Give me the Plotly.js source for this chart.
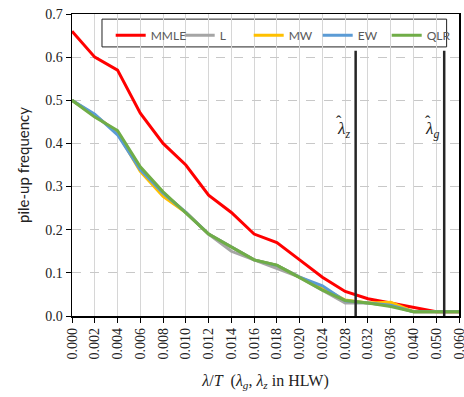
<!DOCTYPE html>
<html>
<head>
<meta charset="utf-8">
<script src="https://cdn.plot.ly/plotly-3.0.1.min.js"></script>
<style>html,body{margin:0;padding:0;background:#fff;}#chart{width:464px;height:397px;}</style>
</head>
<body>
<div id="chart"></div>
<script>
const categories = ["0.000","0.002","0.004","0.006","0.008","0.010","0.012","0.014","0.016","0.018","0.020","0.024","0.028","0.032","0.036","0.040","0.050","0.060"];
const mmle = [0.66,0.60,0.57,0.47,0.40,0.35,0.28,0.24,0.19,0.17,0.13,0.09,0.057,0.04,0.03,0.02,0.01,0.01];
const lSeries = [0.50,0.465,0.425,0.34,0.285,0.24,0.19,0.15,0.13,0.11,0.09,0.06,0.03,0.03,0.025,0.01,0.01,0.01];
const mw = [0.50,0.465,0.425,0.335,0.277,0.24,0.19,0.16,0.13,0.117,0.09,0.065,0.037,0.03,0.032,0.01,0.01,0.01];
const ew = [0.50,0.468,0.42,0.339,0.285,0.24,0.19,0.16,0.13,0.117,0.09,0.07,0.035,0.03,0.025,0.01,0.01,0.01];
const qlr = [0.50,0.461,0.43,0.346,0.288,0.24,0.19,0.16,0.13,0.118,0.088,0.06,0.036,0.03,0.022,0.01,0.01,0.01];
const seriesNames = ["MMLE","L","MW","EW","QLR"];
const seriesColors = ["#FF0000","#A5A5A5","#FFC000","#5B9BD5","#70AD47"];
const markerNames = ["z","g"];
const markerPositions = [12.46, 16.35];

const allSeries = [mmle, lSeries, mw, ew, qlr];
const traces = allSeries.map((vals, i) => ({
  type: "scatter", mode: "lines", x: categories, y: vals, name: seriesNames[i],
  line: {color: seriesColors[i], width: 3}
}));

const serif = "Liberation Serif, serif";
const shapes = markerPositions.map(p => ({
  type: "line", xref: "x", yref: "y", x0: p, x1: p, y0: 0, y1: 0.615,
  line: {color: "#262626", width: 2.5}
}));
// legend frame
shapes.push({
  type: "rect", xref: "paper", yref: "paper", layer: "between",
  x0: 0.0775, x1: 0.968, y0: 0.891, y1: 0.983,
  fillcolor: "#fff", line: {color: "#222", width: 1}
});
const annotations = [];
markerPositions.forEach((p, i) => {
  annotations.push({
    xref: "x", yref: "y", x: p - 0.55, y: 0.43, showarrow: false,
    text: "<i>λ<sub>" + markerNames[i] + "</sub></i>",
    font: {family: serif, size: 17, color: "#222"}
  });
  annotations.push({
    xref: "x", yref: "y", x: p - 0.72, y: 0.45, showarrow: false,
    text: "ˆ",
    font: {family: serif, size: 16, color: "#222"}
  });
});

const layout = {
  width: 464, height: 397,
  margin: {l: 72, r: 5, t: 14, b: 81},
  paper_bgcolor: "#fff", plot_bgcolor: "#fff",
  showlegend: true,
  legend: {
    orientation: "h", x: 0.1, y: 0.978, xanchor: "left", yanchor: "top",
    borderwidth: 0, bgcolor: "rgba(0,0,0,0)",
    font: {family: "Lato, sans-serif", size: 12, color: "#595959"},
    itemwidth: 30, entrywidth: 24, entrywidthmode: "pixels"
  },
  xaxis: {
    type: "category", range: [0, 17],
    tickangle: -90, ticks: "outside", ticklen: 5, tickcolor: "#000",
    showline: true, linecolor: "#000", linewidth: 1.5, mirror: true,
    showgrid: true, gridcolor: "#d6d6d6", gridwidth: 1,
    tickfont: {family: serif, size: 14, color: "#222"},
    title: {text: "<i>λ</i>/<i>T</i>  (<i>λ<sub>g</sub></i>, <i>λ<sub>z</sub></i> in HLW)", font: {family: serif, size: 16, color: "#222"}, standoff: 16},
    zeroline: false
  },
  yaxis: {
    range: [0, 0.7], dtick: 0.1, tickformat: ".1f",
    ticks: "outside", ticklen: 5, tickcolor: "#000",
    showline: true, linecolor: "#000", linewidth: 1.5, mirror: true,
    showgrid: true, gridcolor: "#c8c8c8", griddash: "dash", gridwidth: 1,
    tickfont: {family: serif, size: 14, color: "#222"},
    title: {text: "pile-up frequency", font: {family: "Lato, sans-serif", size: 15, color: "#222"}, standoff: 12},
    zeroline: false
  },
  shapes: shapes,
  annotations: annotations
};

Plotly.newPlot("chart", traces, layout, {displayModeBar: false, staticPlot: true});
</script>
</body>
</html>
